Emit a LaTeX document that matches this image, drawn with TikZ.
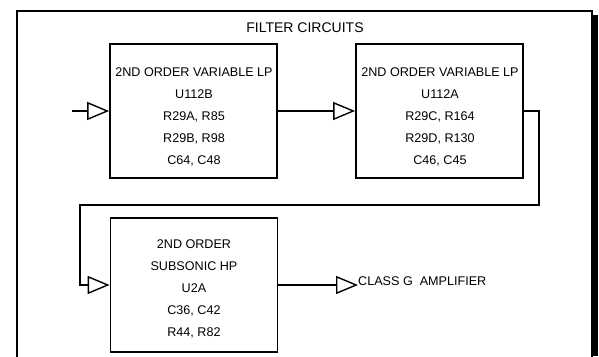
\documentclass[tikz,border=0pt]{standalone}
\usepackage{fontspec}
\setmainfont{Liberation Sans}
\usetikzlibrary{arrows.meta}
\begin{document}
\begin{tikzpicture}[x=1pt,y=-1pt,
  blk/.style={draw,line width=1.8pt,minimum width=167pt,minimum height=134pt,inner sep=0pt},
  txt/.style={align=center,font=\fontsize{12.6}{22}\selectfont,inner sep=0pt},
  tri/.style={line width=1.4pt,-{Triangle[open,length=22pt,width=18pt,fill=white]}},
  frame/.style={line width=1.5pt}]
\useasboundingbox (0,0) rectangle (599,356);
% outer frame
\fill[black] (593,15) rectangle (598,356);
\draw[frame] (17,358) -- (17,11) -- (592,11) -- (592,358);
\node[font=\fontsize{14}{16}\selectfont,inner sep=0pt] (title) at (305,28) {FILTER CIRCUITS};
% boxes
\node[blk] (b1) at (193.5,111) {};
\node[blk] (b2) at (439.5,111) {};
\node[blk] (b3) at (194,285) {};
\node[txt] (t1) at (194,116.5) {2ND ORDER VARIABLE LP\\U112B\\R29A, R85\\R29B, R98\\C64, C48};
\node[txt] (t2) at (440,116.5) {2ND ORDER VARIABLE LP\\U112A\\R29C, R164\\R29D, R130\\C46, C45};
\node[txt] (t3) at (194,288.5) {2ND ORDER\\SUBSONIC HP\\U2A\\C36, C42\\R44, R82};
% connectors
\coordinate (in) at (72,111);
\coordinate (c1) at (539,111);
\coordinate (c2) at (539,205);
\coordinate (c3) at (80,205);
\coordinate (c4) at (80,285);
\draw[tri] (in) -- (b1.west);
\draw[tri] (b1.east) -- (b2.west);
\draw[tri] (b2.east) -- (c1) -- (c2) -- (c3) -- (c4) -- (b3.west);
\node[anchor=west,inner sep=0pt,font=\fontsize{12.6}{15}\selectfont] (amp) at (358,281) {CLASS G\ \ AMPLIFIER};
\draw[tri] (b3.east) -- (b3.east -| amp.west);
\end{tikzpicture}
\end{document}
